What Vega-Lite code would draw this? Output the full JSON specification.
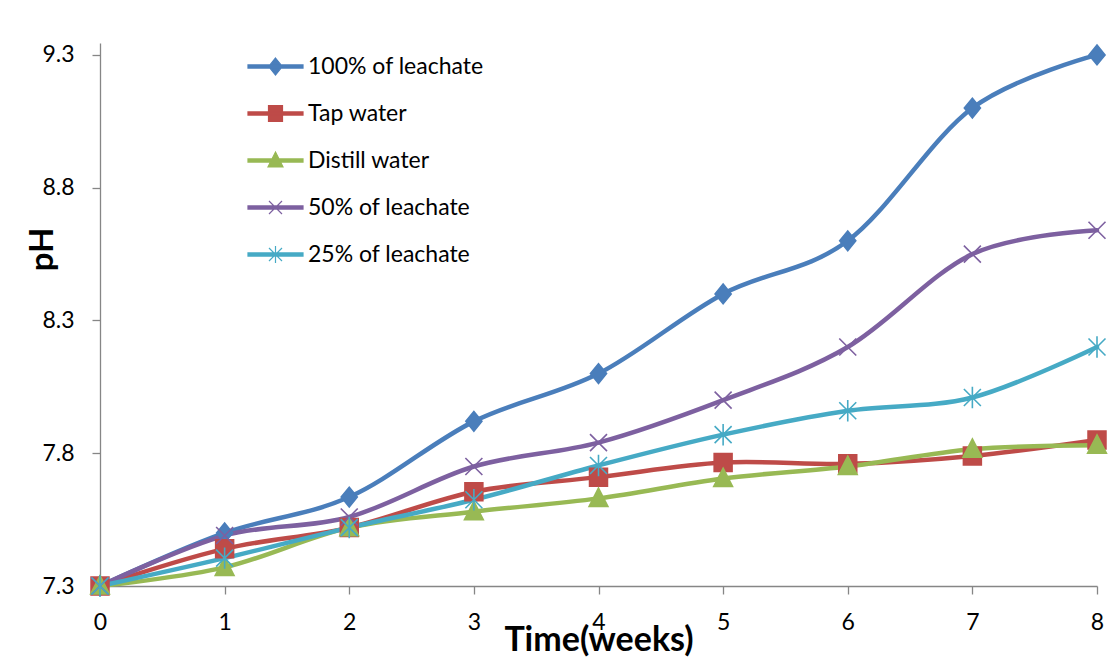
{
  "$schema": "https://vega.github.io/schema/vega-lite/v6.json",
  "width": 997,
  "height": 543,
  "autosize": {"type": "none"},
  "padding": {"left": 100, "top": 43, "right": 18, "bottom": 71},
  "background": "white",
  "config": {
    "view": {"stroke": null},
    "font": "Lato",
    "axis": {"grid": false, "domainColor": "#868686", "tickColor": "#868686", "domainWidth": 1.3, "tickWidth": 1.3, "tickSize": 8, "labelColor": "#000000", "titleColor": "#000000", "labelFont": "Lato", "titleFont": "Lato", "labelFontSize": 23, "labelFontWeight": "normal"}
  },
  "data": {
    "values": [
      {"week": 0, "series": "100% of leachate", "pH": 7.3},
      {"week": 1, "series": "100% of leachate", "pH": 7.5},
      {"week": 2, "series": "100% of leachate", "pH": 7.635},
      {"week": 3, "series": "100% of leachate", "pH": 7.92},
      {"week": 4, "series": "100% of leachate", "pH": 8.1},
      {"week": 5, "series": "100% of leachate", "pH": 8.4},
      {"week": 6, "series": "100% of leachate", "pH": 8.6},
      {"week": 7, "series": "100% of leachate", "pH": 9.1},
      {"week": 8, "series": "100% of leachate", "pH": 9.3},
      {"week": 0, "series": "Tap water", "pH": 7.3},
      {"week": 1, "series": "Tap water", "pH": 7.44},
      {"week": 2, "series": "Tap water", "pH": 7.52},
      {"week": 3, "series": "Tap water", "pH": 7.655},
      {"week": 4, "series": "Tap water", "pH": 7.71},
      {"week": 5, "series": "Tap water", "pH": 7.765},
      {"week": 6, "series": "Tap water", "pH": 7.76},
      {"week": 7, "series": "Tap water", "pH": 7.79},
      {"week": 8, "series": "Tap water", "pH": 7.85},
      {"week": 0, "series": "Distill water", "pH": 7.3},
      {"week": 1, "series": "Distill water", "pH": 7.37},
      {"week": 2, "series": "Distill water", "pH": 7.52},
      {"week": 3, "series": "Distill water", "pH": 7.58},
      {"week": 4, "series": "Distill water", "pH": 7.63},
      {"week": 5, "series": "Distill water", "pH": 7.705},
      {"week": 6, "series": "Distill water", "pH": 7.75},
      {"week": 7, "series": "Distill water", "pH": 7.815},
      {"week": 8, "series": "Distill water", "pH": 7.83},
      {"week": 0, "series": "50% of leachate", "pH": 7.3},
      {"week": 1, "series": "50% of leachate", "pH": 7.49},
      {"week": 2, "series": "50% of leachate", "pH": 7.56},
      {"week": 3, "series": "50% of leachate", "pH": 7.75},
      {"week": 4, "series": "50% of leachate", "pH": 7.84},
      {"week": 5, "series": "50% of leachate", "pH": 8.0},
      {"week": 6, "series": "50% of leachate", "pH": 8.2},
      {"week": 7, "series": "50% of leachate", "pH": 8.55},
      {"week": 8, "series": "50% of leachate", "pH": 8.64},
      {"week": 0, "series": "25% of leachate", "pH": 7.3},
      {"week": 1, "series": "25% of leachate", "pH": 7.405},
      {"week": 2, "series": "25% of leachate", "pH": 7.52},
      {"week": 3, "series": "25% of leachate", "pH": 7.625},
      {"week": 4, "series": "25% of leachate", "pH": 7.754},
      {"week": 5, "series": "25% of leachate", "pH": 7.87},
      {"week": 6, "series": "25% of leachate", "pH": 7.96},
      {"week": 7, "series": "25% of leachate", "pH": 8.01},
      {"week": 8, "series": "25% of leachate", "pH": 8.2}
    ]
  },
  "encoding": {
    "x": {
      "field": "week", "type": "quantitative",
      "scale": {"domain": [0, 8], "nice": false, "zero": false},
      "axis": {"values": [0, 1, 2, 3, 4, 5, 6, 7, 8], "title": "Time(weeks)", "titleFontSize": 34, "titleFontWeight": "bold", "titleBaseline": "alphabetic", "titleY": 64, "labelBaseline": "alphabetic", "labelPadding": 35, "labelFlush": false}
    },
    "y": {
      "field": "pH", "type": "quantitative",
      "scale": {"domain": [7.3, 9.345], "nice": false, "zero": false},
      "axis": {"values": [7.3, 7.8, 8.3, 8.8, 9.3], "format": ".1f", "title": "pH", "titleFontSize": 33, "titleFontWeight": "bold", "titleAngle": -90, "titleBaseline": "alphabetic", "titleAlign": "center", "titleX": -48, "titleY": 206, "labelPadding": 18, "labelFlush": false}
    }
  },
  "layer": [
    {
      "mark": {"type": "line", "strokeWidth": 4.5, "interpolate": "cardinal", "strokeCap": "round", "strokeJoin": "round"},
      "encoding": {
        "color": {"field": "series", "type": "nominal", "scale": {"domain": ["100% of leachate", "Tap water", "Distill water", "50% of leachate", "25% of leachate"], "range": ["#4A7EBB", "#BE4B48", "#98B954", "#7D60A0", "#46AAC5"]}, "legend": null}
      }
    },
    {
      "mark": {"type": "point", "filled": true, "opacity": 1, "size": 320, "strokeWidth": 1.6},
      "encoding": {
        "color": {"field": "series", "type": "nominal", "scale": {"domain": ["100% of leachate", "Tap water", "Distill water", "50% of leachate", "25% of leachate"], "range": ["#4A7EBB", "#BE4B48", "#98B954", "#7D60A0", "#46AAC5"]}, "legend": null},
        "stroke": {"field": "series", "type": "nominal", "scale": {"domain": ["100% of leachate", "Tap water", "Distill water", "50% of leachate", "25% of leachate"], "range": ["#4A7EBB", "#BE4B48", "#98B954", "#7D60A0", "#46AAC5"]}, "legend": null},
        "shape": {"field": "series", "type": "nominal", "scale": {"domain": ["100% of leachate", "Tap water", "Distill water", "50% of leachate", "25% of leachate"], "range": ["M0,-1.1L0.9,0L0,1.1L-0.9,0Z", "M-1.0,-1.0H1.0V1.0H-1.0Z", "M0,-1.15L1.05,0.9H-1.05Z", "M-0.95,-0.95L0.95,0.95M-0.95,0.95L0.95,-0.95", "M-0.95,-0.95L0.95,0.95M-0.95,0.95L0.95,-0.95M0,-1.2V1.2"]}, "legend": null}
      }
    },
    {
      "transform": [{"filter": {"field": "week", "lt": 0}}],
      "mark": {"type": "point", "filled": true, "opacity": 1, "strokeWidth": 1.2},
      "encoding": {
        "color": {
          "field": "series", "type": "nominal",
          "scale": {"domain": ["100% of leachate", "Tap water", "Distill water", "50% of leachate", "25% of leachate"], "range": ["#4A7EBB", "#BE4B48", "#98B954", "#7D60A0", "#46AAC5"]},
          "legend": {
            "title": null, "orient": "none", "legendX": 164, "legendY": 12,
            "symbolSize": 400, "symbolStrokeWidth": 1.2, "symbolOpacity": 1, "labelOffset": 21, "labelLimit": 400,
            "labelFontSize": 23, "labelFont": "Lato", "labelColor": "#000000", "rowPadding": 23, "padding": 0
          }
        },
        "stroke": {
          "field": "series", "type": "nominal",
          "scale": {"domain": ["100% of leachate", "Tap water", "Distill water", "50% of leachate", "25% of leachate"], "range": ["#4A7EBB", "#BE4B48", "#98B954", "#7D60A0", "#46AAC5"]},
          "legend": {
            "title": null, "orient": "none", "legendX": 164, "legendY": 12,
            "symbolSize": 400, "symbolStrokeWidth": 1.2, "symbolOpacity": 1, "labelOffset": 21, "labelLimit": 400,
            "labelFontSize": 23, "labelFont": "Lato", "labelColor": "#000000", "rowPadding": 23, "padding": 0
          }
        },
        "shape": {
          "field": "series", "type": "nominal",
          "scale": {"domain": ["100% of leachate", "Tap water", "Distill water", "50% of leachate", "25% of leachate"], "range": [
            "M-2.75,-0.16H2.75V0.16H-2.75Z M0,-0.85L0.68,0L0,0.85L-0.68,0Z",
            "M-2.75,-0.16H2.75V0.16H-2.75Z M-0.7,-0.8H0.7V0.8H-0.7Z",
            "M-2.75,-0.16H2.75V0.16H-2.75Z M0,-0.85L0.75,0.65H-0.75Z",
            "M-2.75,-0.16H2.75V0.16H-2.75Z M-0.65,-0.65L0.65,0.65M-0.65,0.65L0.65,-0.65",
            "M-2.75,-0.16H2.75V0.16H-2.75Z M-0.65,-0.65L0.65,0.65M-0.65,0.65L0.65,-0.65M0,-0.85V0.85"
          ]},
          "legend": {
            "title": null, "orient": "none", "legendX": 164, "legendY": 12,
            "symbolSize": 400, "symbolStrokeWidth": 1.2, "symbolOpacity": 1, "labelOffset": 21, "labelLimit": 400,
            "labelFontSize": 23, "labelFont": "Lato", "labelColor": "#000000", "rowPadding": 23, "padding": 0
          }
        }
      }
    }
  ],
  "resolve": {
    "scale": {"shape": "independent", "color": "independent", "stroke": "independent"},
    "legend": {"shape": "independent", "color": "independent", "stroke": "independent"}
  }
}
